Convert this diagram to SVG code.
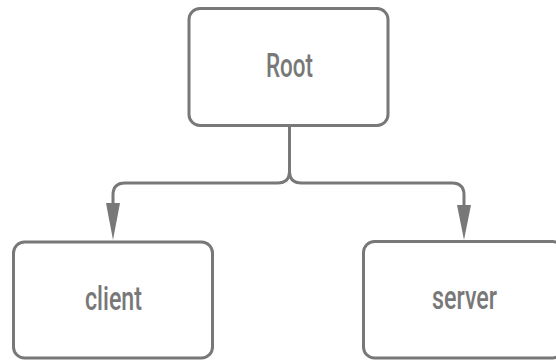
<svg xmlns="http://www.w3.org/2000/svg" width="556" height="360" viewBox="0 0 556 360">
<style>
.box{fill:#ffffff;stroke:#787878;stroke-width:3}
.lbl{font-family:Roboto,"Liberation Sans",sans-serif;font-size:33px;font-weight:500;fill:#787878;text-anchor:middle}
.edge{fill:none;stroke:#787878;stroke-width:3}
.head{fill:#787878}
</style>
<rect width="556" height="360" fill="#ffffff"/>
<g id="connectors">
<path class="edge" d="M289.5,126 V171 Q289.5,183 277.5,183 H125 Q113,183 113,195 V203" />
<path class="head" d="M106,203 L120,203 L113,240 Z"/>
<path class="edge" d="M289.5,171 Q289.5,183 301.5,183 H452 Q464,183 464,195 V205" />
<path class="head" d="M457,205 L471,205 L464,240 Z"/>
</g>
<g id="root">
<rect class="box" x="189" y="8.5" width="199" height="117" rx="11"/>
<text class="lbl" x="289.5" y="77" textLength="47" lengthAdjust="spacingAndGlyphs">Root</text>
</g>
<g id="client">
<rect class="box" x="13.5" y="242" width="199" height="116" rx="11"/>
<text class="lbl" x="113.5" y="310" textLength="57" lengthAdjust="spacingAndGlyphs">client</text>
</g>
<g id="server">
<rect class="box" x="363.5" y="241.5" width="200" height="116.5" rx="11"/>
<text class="lbl" x="464.5" y="309" textLength="65" lengthAdjust="spacingAndGlyphs">server</text>
</g>
</svg>
